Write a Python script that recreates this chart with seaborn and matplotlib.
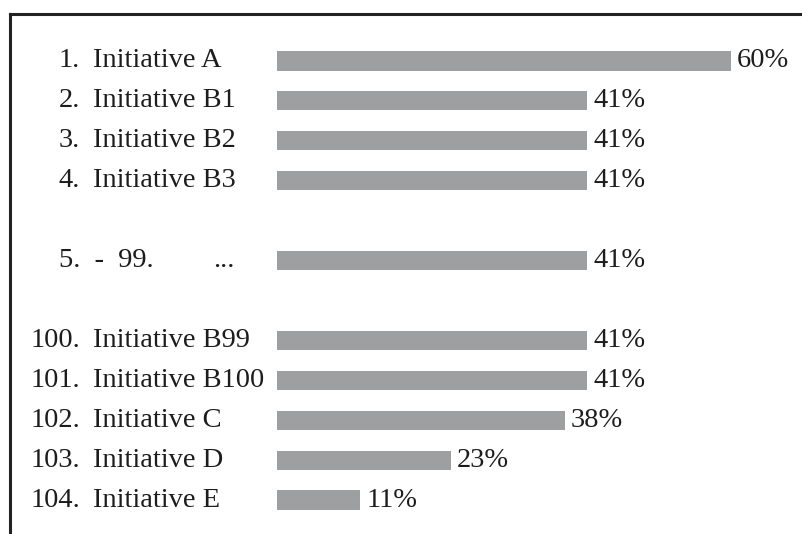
import matplotlib
matplotlib.use("Agg")
import matplotlib.pyplot as plt
import matplotlib.transforms as mtransforms
from matplotlib.lines import Line2D
import pandas as pd
import seaborn as sns

# ---- data ----
numbers = ["1.", "2.", "3.", "4.", "5.  -  99.", "100.", "101.", "102.", "103.", "104."]
names = ["Initiative A", "Initiative B1", "Initiative B2", "Initiative B3", "...",
         "Initiative B99", "Initiative B100", "Initiative C", "Initiative D", "Initiative E"]
values = [60, 41, 41, 41, 41, 41, 41, 38, 23, 11]
# empty slots appear after these item indices
gap_after = [3, 4]

# ---- style ----
sns.set_theme(style="white")
plt.rcParams["font.family"] = ["Liberation Serif", "DejaVu Serif"]
FS = 20.5
TXT = "#1c1c1c"
BAR = "#9e9fa1"

keys = [f"k{i}" for i in range(len(values))]
order = []
for i, k in enumerate(keys):
    order.append(k)
    if i in gap_after:
        order.append(f"gap{i}")

df = pd.DataFrame({"key": keys, "value": values})

W, H, DPI = 803, 534, 100
fig = plt.figure(figsize=(W / DPI, H / DPI), dpi=DPI)
x0, x1 = 277, 731
ytop, ybot = 41, 520
ax = fig.add_axes([x0 / W, 1 - ybot / H, (x1 - x0) / W, (ybot - ytop) / H])

sns.barplot(data=df, x="value", y="key", order=order, orient="h",
            color=BAR, saturation=1, width=0.48, linewidth=0, ax=ax)
ax.set_xlim(0, max(values))
ax.set_axis_off()

for c in ax.containers:
    ax.bar_label(c, labels=[f"{v}%" for v in values], padding=4.3,
                 fontsize=FS, color=TXT, clip_on=False)

trans = mtransforms.blended_transform_factory(fig.transFigure, ax.transData)
slot = {k: order.index(k) for k in keys}
for k, num, name in zip(keys, numbers, names):
    y = slot[k]
    if name == "...":
        ax.text(59 / W, y, num, transform=trans, ha="left", va="center",
                fontsize=FS, color=TXT)
        ax.text(213 / W, y, name, transform=trans, ha="left", va="center",
                fontsize=FS, color=TXT)
    else:
        ax.text(80 / W, y, num, transform=trans, ha="right", va="center",
                fontsize=FS, color=TXT)
        ax.text(93 / W, y, name, transform=trans, ha="left", va="center",
                fontsize=FS, color=TXT)

# partial frame (top and left)
fy = 1 - 13.5 / H
fx = 10.5 / W
fig.add_artist(Line2D([fx, 1.0], [fy, fy], transform=fig.transFigure,
                      color="#222222", lw=2.2, solid_capstyle="projecting"))
fig.add_artist(Line2D([fx, fx], [fy, 0.0], transform=fig.transFigure,
                      color="#222222", lw=2.2, solid_capstyle="projecting"))

fig.savefig("out.png", dpi=DPI, facecolor="white")
